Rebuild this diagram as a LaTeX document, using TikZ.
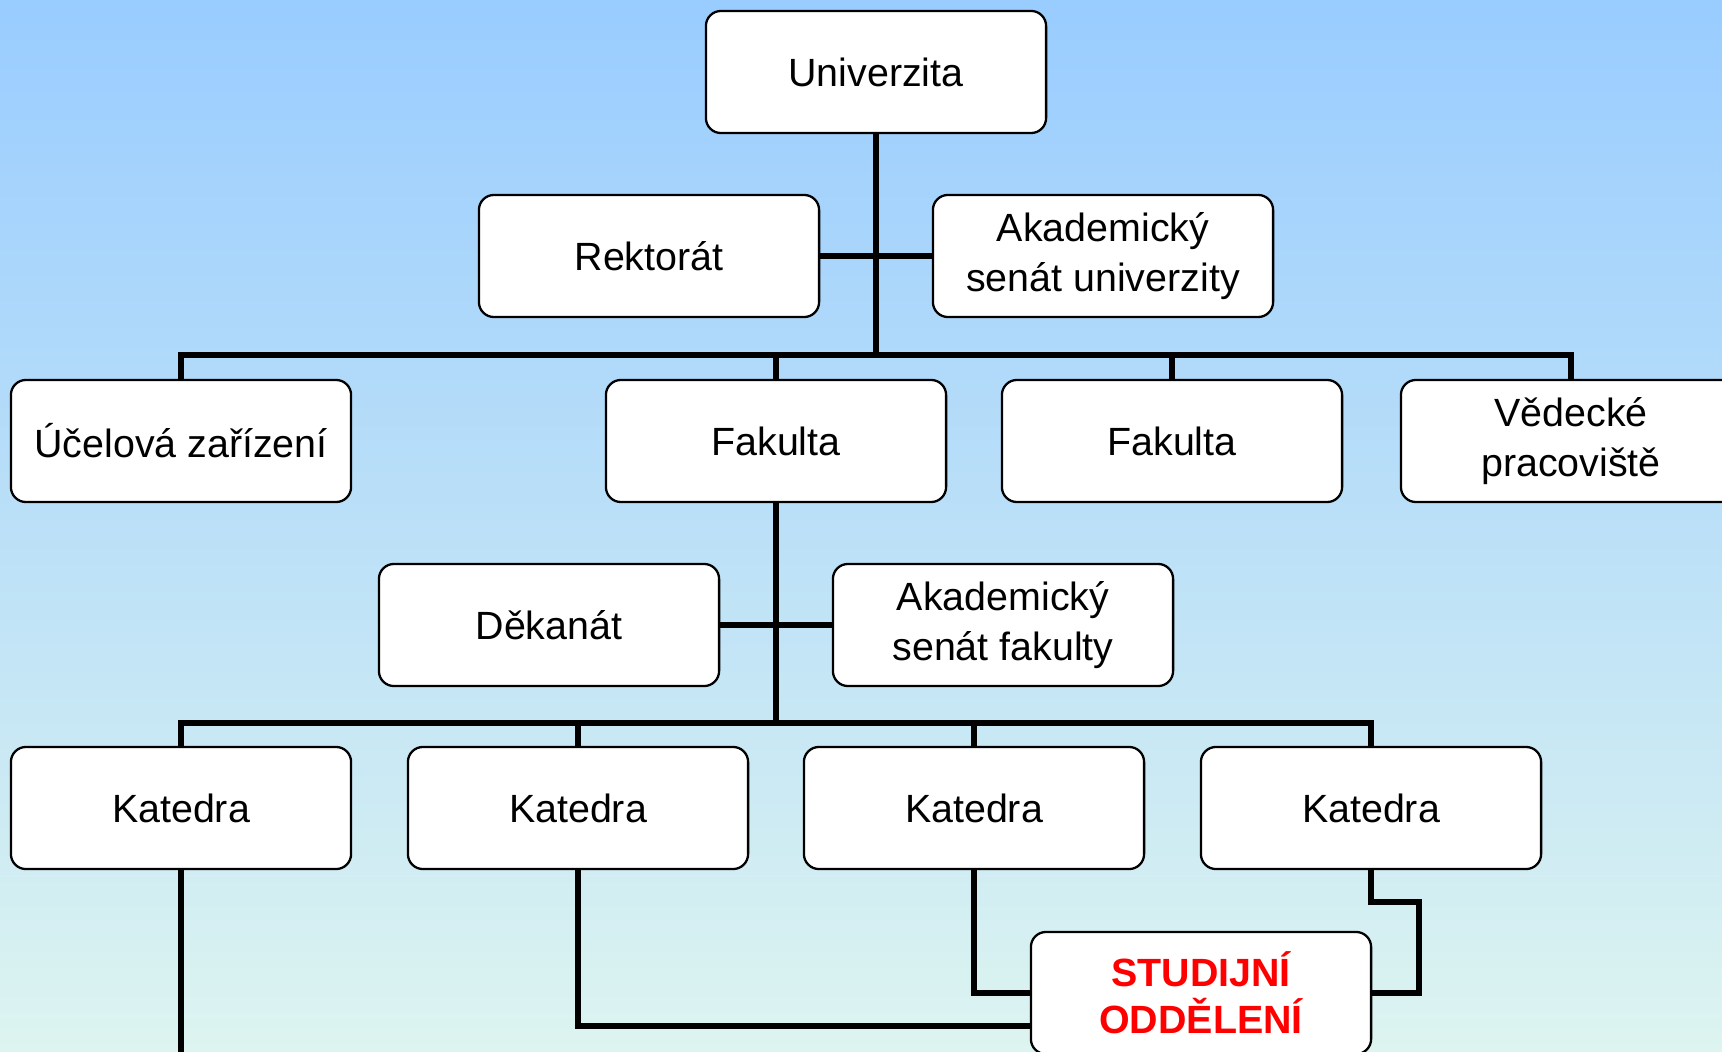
\documentclass[tikz,border=0pt]{standalone}
\usepackage{fontspec}
\setmainfont{Liberation Sans}
\usepackage{tikz}
\definecolor{sky}{RGB}{153,204,255}
\definecolor{mint}{RGB}{221,244,240}

\begin{document}
\begin{tikzpicture}[x=0.01cm, y=-0.01cm, line width=1.6pt,
    org/.style={draw, fill=white, line width=0.65pt, rounded corners=0.15cm,
        minimum width=3.4cm, minimum height=1.22cm, align=center,
        font=\fontsize{11.2}{14}\selectfont},
    hot/.style={org, text=red, font=\fontsize{11.2}{13.4}\selectfont\bfseries}]
    \useasboundingbox (0,0) rectangle (1722,1052);
    \clip (0,0) rectangle (1722,1052);
    \shade[top color=sky, bottom color=mint] (0,0) rectangle (1722,1052);

    \node[org] (univ) at (876,72) {Univerzita};
    \node[org] (rekt) at (649,256) {Rektorát};
    \node[org] (asu) at (1103,256) {Akademický\\ senát univerzity};

    \node[org] (ucel) at (181,441) {Účelová zařízení};
    \node[org] (fak1) at (776,441) {Fakulta};
    \node[org] (fak2) at (1172,441) {Fakulta};
    \node[org] (ved) at (1571,441) {Vědecké\\ pracoviště};

    \node[org] (dek) at (549,625) {Děkanát};
    \node[org] (asf) at (1003,625) {Akademický\\ senát fakulty};

    \node[org] (kat1) at (181,808) {Katedra};
    \node[org] (kat2) at (578,808) {Katedra};
    \node[org] (kat3) at (974,808) {Katedra};
    \node[org] (kat4) at (1371,808) {Katedra};

    \node[hot] (stud) at (1201,993) {STUDIJNÍ\\ ODDĚLENÍ};

    % univerzita
    \coordinate (b1) at (876,355);
    \draw (univ) -- (b1);
    \draw (rekt) -- (asu);
    \draw (ucel) |- (b1) -| (ved);
    \draw (fak1) -- (fak1 |- b1);
    \draw (fak2) -- (fak2 |- b1);

    % fakulta
    \coordinate (b2) at (776,723);
    \draw (fak1) -- (b2);
    \draw (dek) -- (asf);
    \draw (kat1) |- (b2) -| (kat4);
    \draw (kat2) -- (kat2 |- b2);
    \draw (kat3) -- (kat3 |- b2);

    % studijni oddeleni
    \draw (kat1) |- ([yshift=-0.635cm]stud.west);
    \draw (kat2) |- ([yshift=-0.33cm]stud.west);
    \draw (kat3) |- (stud);
    \draw (kat4.south) -- ++(0,32) -- ++(48,0) |- (stud);
\end{tikzpicture}
\end{document}
